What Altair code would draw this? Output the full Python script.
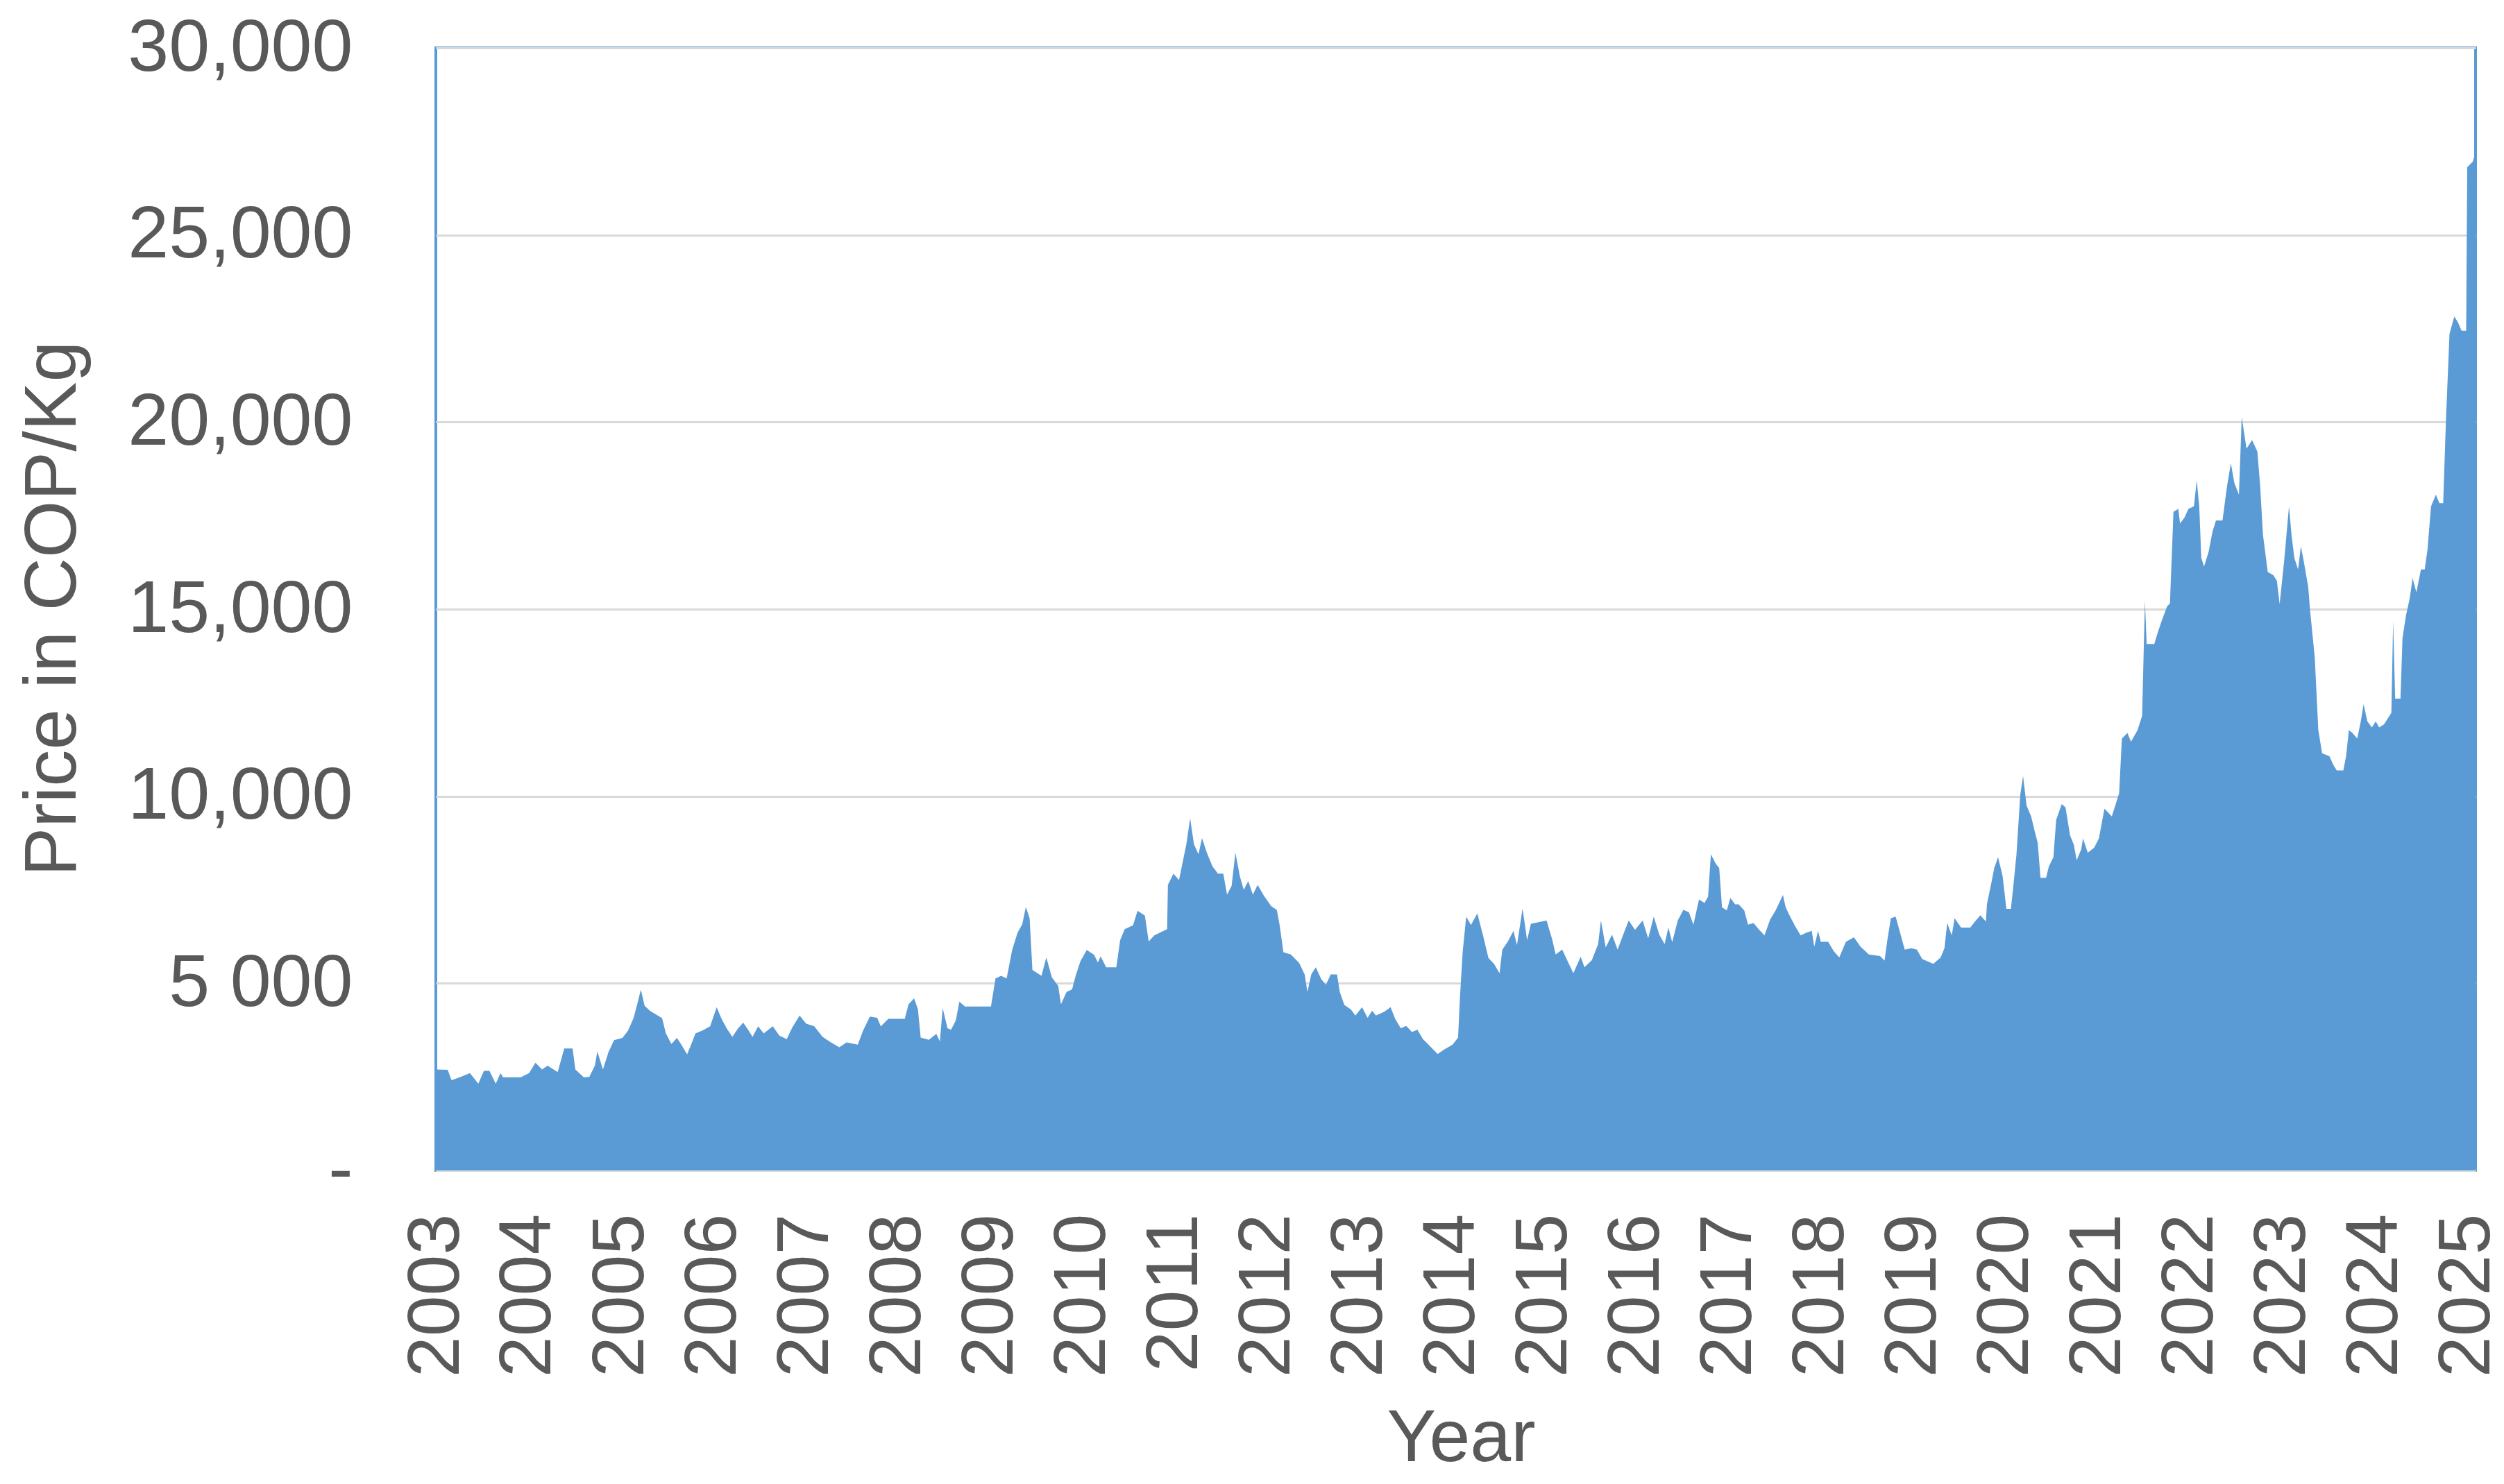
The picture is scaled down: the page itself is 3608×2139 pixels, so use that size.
import altair as alt
import pandas as pd

# Decimal year of each reading and the price (COP/Kg)
years = [
    2003.00, 2003.13, 2003.17, 2003.25, 2003.37, 2003.46, 2003.52, 2003.58, 2003.65, 2003.70,
    2003.73, 2003.92, 2004.01, 2004.08, 2004.15, 2004.21, 2004.32, 2004.39, 2004.48, 2004.51,
    2004.60, 2004.66, 2004.72, 2004.75, 2004.81, 2004.87, 2004.93, 2005.02, 2005.08, 2005.14,
    2005.18, 2005.22, 2005.26, 2005.32, 2005.38, 2005.45, 2005.49, 2005.55, 2005.61, 2005.66,
    2005.72, 2005.77, 2005.81, 2005.88, 2005.97, 2006.04, 2006.09, 2006.15, 2006.21, 2006.27,
    2006.33, 2006.39, 2006.43, 2006.49, 2006.55, 2006.65, 2006.72, 2006.80, 2006.86, 2006.94,
    2007.01, 2007.10, 2007.19, 2007.28, 2007.37, 2007.45, 2007.57, 2007.63, 2007.70, 2007.78,
    2007.82, 2007.90, 2008.08, 2008.12, 2008.18, 2008.22, 2008.25, 2008.34, 2008.42, 2008.46,
    2008.49, 2008.54, 2008.58, 2008.63, 2008.67, 2008.73, 2009.01, 2009.06, 2009.12, 2009.18,
    2009.24, 2009.30, 2009.35, 2009.39, 2009.43, 2009.46, 2009.52, 2009.56, 2009.61, 2009.67,
    2009.74, 2009.77, 2009.83, 2009.89, 2009.93, 2009.98, 2010.05, 2010.13, 2010.17, 2010.20,
    2010.26, 2010.37, 2010.41, 2010.46, 2010.55, 2010.60, 2010.68, 2010.72, 2010.78, 2010.92,
    2010.93, 2010.99, 2011.05, 2011.13, 2011.17, 2011.21, 2011.26, 2011.30, 2011.35, 2011.41,
    2011.47, 2011.53, 2011.57, 2011.62, 2011.66, 2011.71, 2011.75, 2011.80, 2011.85, 2011.90,
    2011.97, 2012.05, 2012.11, 2012.14, 2012.18, 2012.26, 2012.35, 2012.41, 2012.44, 2012.48,
    2012.53, 2012.59, 2012.64, 2012.69, 2012.76, 2012.79, 2012.84, 2012.91, 2012.96, 2013.03,
    2013.09, 2013.14, 2013.18, 2013.27, 2013.34, 2013.39, 2013.45, 2013.51, 2013.57, 2013.63,
    2013.69, 2013.75, 2013.85, 2013.92, 2014.01, 2014.07, 2014.09, 2014.12, 2014.16, 2014.21,
    2014.28, 2014.34, 2014.40, 2014.46, 2014.52, 2014.55, 2014.61, 2014.67, 2014.71, 2014.77,
    2014.82, 2014.86, 2015.03, 2015.09, 2015.13, 2015.20, 2015.26, 2015.32, 2015.40, 2015.44,
    2015.52, 2015.59, 2015.62, 2015.67, 2015.74, 2015.80, 2015.86, 2015.92, 2015.99, 2016.07,
    2016.13, 2016.19, 2016.25, 2016.31, 2016.35, 2016.39, 2016.45, 2016.51, 2016.57, 2016.62,
    2016.68, 2016.74, 2016.78, 2016.81, 2016.86, 2016.90, 2016.93, 2016.98, 2017.02, 2017.07,
    2017.11, 2017.17, 2017.21, 2017.27, 2017.33, 2017.39, 2017.45, 2017.51, 2017.59, 2017.62,
    2017.66, 2017.72, 2017.78, 2017.85, 2017.90, 2017.93, 2017.97, 2018.00, 2018.08, 2018.14,
    2018.20, 2018.27, 2018.36, 2018.43, 2018.52, 2018.64, 2018.69, 2018.72, 2018.76, 2018.81,
    2018.85, 2018.91, 2018.98, 2019.04, 2019.10, 2019.22, 2019.30, 2019.34, 2019.37, 2019.42,
    2019.45, 2019.52, 2019.62, 2019.67, 2019.73, 2019.79, 2019.80, 2019.85, 2019.88, 2019.92,
    2019.97, 2020.01, 2020.06, 2020.09, 2020.12, 2020.16, 2020.19, 2020.23, 2020.28, 2020.32,
    2020.35, 2020.38, 2020.44, 2020.47, 2020.52, 2020.55, 2020.61, 2020.65, 2020.70, 2020.74,
    2020.77, 2020.82, 2020.84, 2020.89, 2020.96, 2021.01, 2021.07, 2021.15, 2021.23, 2021.26,
    2021.32, 2021.36, 2021.43, 2021.48, 2021.51, 2021.53, 2021.61, 2021.65, 2021.69, 2021.75,
    2021.78, 2021.82, 2021.87, 2021.89, 2021.94, 2021.98, 2022.04, 2022.07, 2022.10, 2022.12,
    2022.15, 2022.20, 2022.24, 2022.28, 2022.35, 2022.40, 2022.44, 2022.48, 2022.53, 2022.56,
    2022.61, 2022.67, 2022.73, 2022.76, 2022.79, 2022.84, 2022.90, 2022.94, 2022.97, 2023.02,
    2023.07, 2023.10, 2023.13, 2023.17, 2023.20, 2023.23, 2023.28, 2023.30, 2023.35, 2023.39,
    2023.43, 2023.51, 2023.55, 2023.59, 2023.66, 2023.69, 2023.72, 2023.76, 2023.81, 2023.85,
    2023.88, 2023.92, 2023.97, 2024.01, 2024.05, 2024.10, 2024.14, 2024.18, 2024.20, 2024.22,
    2024.28, 2024.30, 2024.34, 2024.38, 2024.41, 2024.45, 2024.50, 2024.54, 2024.57, 2024.61,
    2024.66, 2024.70, 2024.74, 2024.77, 2024.81, 2024.86, 2024.90, 2024.94, 2024.99, 2025.00,
    2025.06, 2025.09,
]

prices = [
    2700, 2690, 2410, 2480, 2600, 2320, 2660, 2660, 2320, 2600,
    2490, 2490, 2600, 2880, 2700, 2800, 2630, 3260, 3260, 2700,
    2490, 2500, 2800, 3180, 2700, 3160, 3480, 3540, 3730, 4070,
    4450, 4830, 4400, 4260, 4170, 4070, 3660, 3380, 3540, 3350,
    3100, 3400, 3660, 3730, 3850, 4360, 4070, 3790, 3570, 3790,
    3950, 3730, 3570, 3850, 3660, 3850, 3600, 3510, 3820, 4140,
    3920, 3850, 3570, 3420, 3290, 3420, 3360, 3750, 4110, 4080,
    3850, 4050, 4050, 4440, 4600, 4310, 3550, 3490, 3650, 3450,
    4340, 3800, 3760, 4010, 4510, 4380, 4380, 5130, 5200, 5130,
    5890, 6350, 6580, 7040, 6740, 5360, 5260, 5200, 5690, 5160,
    4930, 4440, 4770, 4840, 5200, 5590, 5890, 5760, 5560, 5720,
    5430, 5430, 6150, 6450, 6550, 6940, 6810, 6120, 6280, 6450,
    7630, 7930, 7760, 8720, 9410, 8720, 8450, 8880, 8490, 8130,
    7930, 7930, 7370, 7600, 8490, 7850, 7500, 7730, 7370, 7630,
    7340, 7060, 6960, 6560, 5830, 5770, 5550, 5240, 4770, 5240,
    5430, 5110, 4960, 5240, 5240, 4770, 4420, 4300, 4140, 4360,
    4080, 4270, 4140, 4240, 4360, 4050, 3800, 3860, 3700, 3760,
    3510, 3360, 3110, 3230, 3360, 3550, 4580, 5830, 6780, 6560,
    6870, 6300, 5680, 5520, 5270, 5900, 6120, 6400, 6020, 7000,
    6150, 6590, 6680, 6180, 5770, 5900, 5580, 5270, 5710, 5430,
    5620, 6050, 6680, 5960, 6300, 5900, 6300, 6680, 6430, 6680,
    6200, 6780, 6300, 6050, 6490, 6100, 6680, 6960, 6900, 6570,
    7240, 7150, 7320, 8450, 8200, 8080, 7030, 6950, 7280, 7110,
    7110, 6950, 6570, 6610, 6440, 6280, 6700, 6950, 7360, 7030,
    6820, 6530, 6280, 6360, 6400, 5980, 6400, 6110, 6110, 5860,
    5690, 6110, 6230, 5980, 5770, 5730, 5610, 6150, 6740, 6780,
    6440, 5900, 5940, 5900, 5650, 5520, 5690, 5940, 6610, 6280,
    6740, 6490, 6490, 6650, 6820, 6650, 7110, 7700, 8080, 8370,
    7870, 6990, 6990, 7700, 8450, 10040, 10540, 9750, 9460, 9040,
    8750, 7820, 7820, 8120, 8370, 9370, 9790, 9700, 8950, 8700,
    8290, 8580, 8870, 8490, 8620, 8870, 9670, 9460, 10080, 11540,
    11690, 11460, 11770, 12150, 15230, 14070, 14070, 14380, 14680, 15080,
    15150, 17600, 17680, 17290, 17450, 17680, 17750, 18440, 17750, 16370,
    16140, 16530, 17060, 17370, 17370, 18290, 18900, 18370, 18060, 20130,
    19290, 19520, 19210, 18290, 16990, 15990, 15910, 15760, 15140, 16300,
    17750, 16990, 16370, 16060, 16680, 16300, 15600, 15000, 13700, 11770,
    11150, 11070, 10840, 10690, 10690, 11080, 11770, 11690, 11540, 12000,
    12460, 12000, 11840, 12000, 11840, 11920, 12070, 12230, 14690, 12610,
    12610, 14220, 14840, 15300, 15830, 15450, 16060, 16060, 16600, 17750,
    18060, 17830, 17830, 20060, 22360, 22820, 22670, 22440, 22440, 26810,
    26960, 27200,
]

tick_years = list(range(2003, 2026))
y_ticks = [0, 5000, 10000, 15000, 20000, 25000, 30000]


def to_date(d):
    y = int(d)
    start = pd.Timestamp(year=y, month=1, day=1)
    length = (pd.Timestamp(year=y + 1, month=1, day=1) - start).days
    return start + pd.Timedelta(days=round((d - y) * length))


df = pd.DataFrame({"date": [to_date(d) for d in years], "price": prices})

FONT = "Liberation Sans"
GRAY = "#595959"
FS = 106

x_axis = alt.Axis(
    title="Year",
    values=[alt.DateTime(year=y, month=1, date=1) for y in tick_years],
    format="%Y",
    labelAngle=270,
    labelAlign="right",
    labelBaseline="middle",
    labelPadding=62,
    labelFontSize=FS,
    labelColor=GRAY,
    labelFont=FONT,
    labelOverlap=False,
    labelFlush=False,
    labelLimit=0,
    ticks=False,
    grid=False,
    domain=True,
    domainColor="#D9D9D9",
    domainWidth=3,
    titleFontSize=FS,
    titleFont=FONT,
    titleColor=GRAY,
    titleFontWeight="normal",
    titleLimit=2000,
    titleX=1477,
    titleY=386,
    titleAlign="center",
    titleBaseline="middle",
)

y_axis = alt.Axis(
    title="Price in COP/Kg",
    values=y_ticks,
    labelExpr="datum.value == 0 ? '-\u00a0\u00a0' : (datum.value == 5000 ? '5 000' : format(datum.value, ','))",
    labelFontSize=FS,
    labelColor=GRAY,
    labelFont=FONT,
    labelPadding=120,
    labelLimit=0,
    ticks=False,
    domain=False,
    grid=True,
    gridColor="#D9D9D9",
    gridWidth=3,
    titleFontSize=FS,
    titleFont=FONT,
    titleColor=GRAY,
    titleFontWeight="normal",
    titleLimit=2000,
    titleAngle=270,
    titleX=-552,
    titleY=808,
    titleAlign="center",
    titleBaseline="middle",
)

chart = (
    alt.Chart(df)
    .mark_area(color="#5B9BD5", opacity=1, interpolate="linear")
    .encode(
        x=alt.X(
            "date:T",
            axis=x_axis,
            scale=alt.Scale(
                domain=[
                    alt.DateTime(year=2003, month=1, date=1),
                    alt.DateTime(year=2025, month=2, date=3),
                ]
            ),
        ),
        y=alt.Y("price:Q", axis=y_axis, scale=alt.Scale(domain=[0, 30000], nice=False)),
    )
    .properties(
        width=2939,
        height=1618,
        autosize=alt.AutoSizeParams(type="none"),
        padding={"left": 620, "top": 61, "right": 33, "bottom": 440},
        background="white",
    )
    .configure_view(stroke="#5B9BD5", strokeWidth=4)
)

chart.save("out.html", embed_options={"renderer": "svg", "actions": False})
